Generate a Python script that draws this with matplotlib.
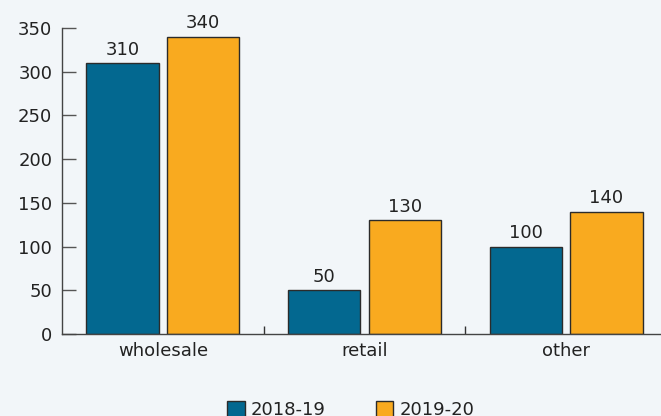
import matplotlib.pyplot as plt
import numpy as np
from matplotlib.patches import Patch

plt.rcParams['font.family'] = ['DejaVu Sans']

categories = ['wholesale', 'retail', 'other']
years = ['2018-19', '2019-20']
vals_1819 = [310, 50, 100]
vals_1920 = [340, 130, 140]
colors = ['#036890', '#f9aa1f']

bg = '#f2f6f9'
fs = 13
fig = plt.figure(figsize=(6.61, 4.16), dpi=100, facecolor=bg)
ax = fig.add_axes([62/661, 82/416, 605/661, 306/416], facecolor=bg)

x = np.arange(len(categories))
w = 0.36
for off, vals, c in [(-0.2, vals_1819, colors[0]), (0.2, vals_1920, colors[1])]:
    bars = ax.bar(x + off, vals, w, color=c, edgecolor='#2b2b2b', linewidth=1)
    for b, v in zip(bars, vals):
        ax.text(b.get_x() + b.get_width()/2, v + 5, str(v), ha='center', va='bottom',
                fontsize=fs, color='#222222')

ax.set_xlim(-0.5, 2.5)
ax.set_ylim(0, 350)
ax.set_yticks(range(0, 351, 50))
ax.set_xticks(x)
ax.set_xticklabels(categories)
ax.set_xticks([0.5, 1.5], minor=True)

for s in ['top', 'right']:
    ax.spines[s].set_visible(False)
for s in ['left', 'bottom']:
    ax.spines[s].set_color('#444444')
    ax.spines[s].set_linewidth(1)

ax.tick_params(axis='y', direction='in', length=10, width=1, color='#555555',
               labelsize=fs, labelcolor='#222222', pad=7)
ax.tick_params(axis='x', which='major', length=0, labelsize=fs, labelcolor='#222222', pad=6)
ax.tick_params(axis='x', which='minor', direction='in', length=6, width=1, color='#333333')

handles = [Patch(facecolor=c, edgecolor='#2b2b2b', linewidth=1) for c in colors]
fig.legend(handles, years, loc='center', bbox_to_anchor=(351/661, 1 - 410/416),
           ncol=2, frameon=False, fontsize=fs, handlelength=0.95, handleheight=0.95,
           handletextpad=0.35, columnspacing=2.8, labelcolor='#222222')

fig.savefig('out.png', dpi=100, facecolor=bg)
